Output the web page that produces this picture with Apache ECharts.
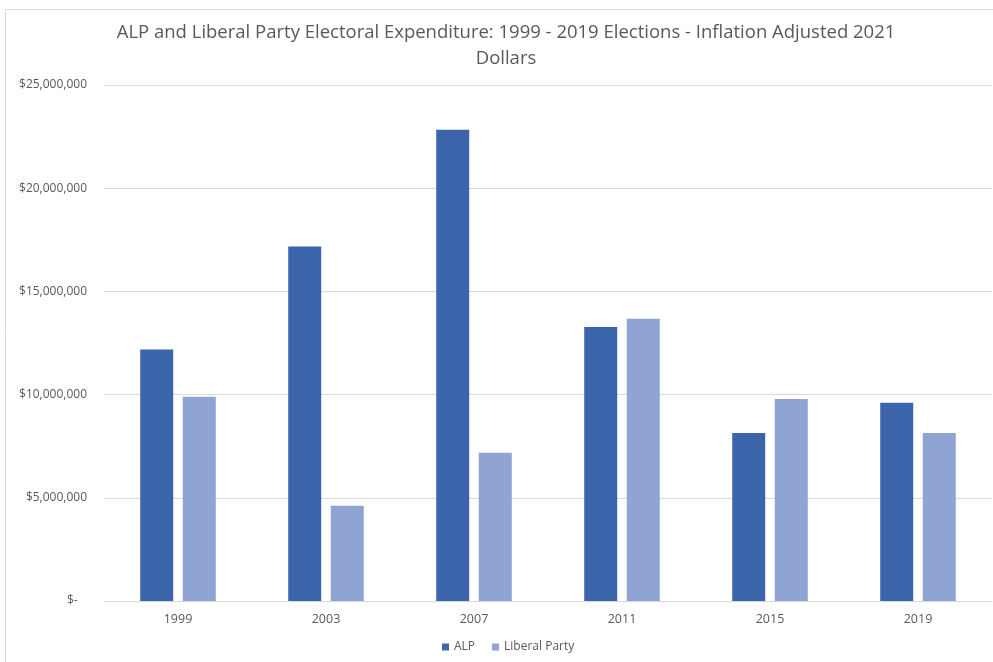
<!DOCTYPE html>
<html>
<head>
<meta charset="utf-8">
<script src="https://cdn.jsdelivr.net/npm/echarts@6/dist/echarts.min.js"></script>
<style>html,body{margin:0;padding:0;background:#fff;}#c{width:993px;height:662px;}</style>
</head>
<body>
<div id="c"></div>
<script>
const years = ['1999', '2003', '2007', '2011', '2015', '2019'];
const alp = [12190000, 17170000, 22830000, 13270000, 8140000, 9610000];
const liberal = [9900000, 4610000, 7180000, 13680000, 9790000, 8140000];
const seriesNames = ['ALP', 'Liberal Party'];
const titleText = 'ALP and Liberal Party Electoral Expenditure: 1999 - 2019 Elections - Inflation Adjusted 2021\nDollars';

const FONT = "'Open Sans', sans-serif";
const chart = echarts.init(document.getElementById('c'), null, {renderer: 'canvas'});
function fmt(v) {
  if (v === 0) return '$-   ';
  return '$' + v.toLocaleString('en-US');
}
chart.setOption({
  animation: false,
  backgroundColor: '#fff',
  color: ['#3C64AB', '#90A4D4'],
  graphic: [{
    type: 'polyline',
    shape: {points: [[5.5, 662], [5.5, 9.5], [993, 9.5]]},
    style: {stroke: '#D9D9D9', lineWidth: 1, fill: null},
    silent: true
  }],
  title: {
    text: titleText,
    left: 501,
    top: 15,
    textAlign: 'center',
    textStyle: {fontFamily: FONT, fontSize: 18.5, fontWeight: 'normal', color: '#595959', lineHeight: 26}
  },
  legend: {
    data: seriesNames,
    bottom: 4,
    left: 437,
    itemWidth: 7,
    itemHeight: 7,
    itemGap: 17,
    icon: 'rect',
    textStyle: {fontFamily: FONT, fontSize: 12, color: '#595959'}
  },
  grid: {left: 104, right: 1, top: 85, bottom: 61, containLabel: false},
  xAxis: {
    type: 'category',
    data: years,
    axisLine: {lineStyle: {color: '#D9D9D9'}},
    axisTick: {show: false},
    axisLabel: {fontFamily: FONT, fontSize: 12.5, color: '#595959', margin: 12}
  },
  yAxis: {
    type: 'value',
    min: 0,
    max: 25000000,
    interval: 5000000,
    axisLine: {show: false},
    axisTick: {show: false},
    splitLine: {lineStyle: {color: '#D9D9D9'}},
    axisLabel: {fontFamily: FONT, fontSize: 12, color: '#595959', margin: 17, formatter: fmt}
  },
  series: [
    {name: seriesNames[0], type: 'bar', data: alp, barWidth: 33, barGap: '29%'},
    {name: seriesNames[1], type: 'bar', data: liberal, barWidth: 33, barGap: '29%'}
  ]
});
</script>
</body>
</html>
